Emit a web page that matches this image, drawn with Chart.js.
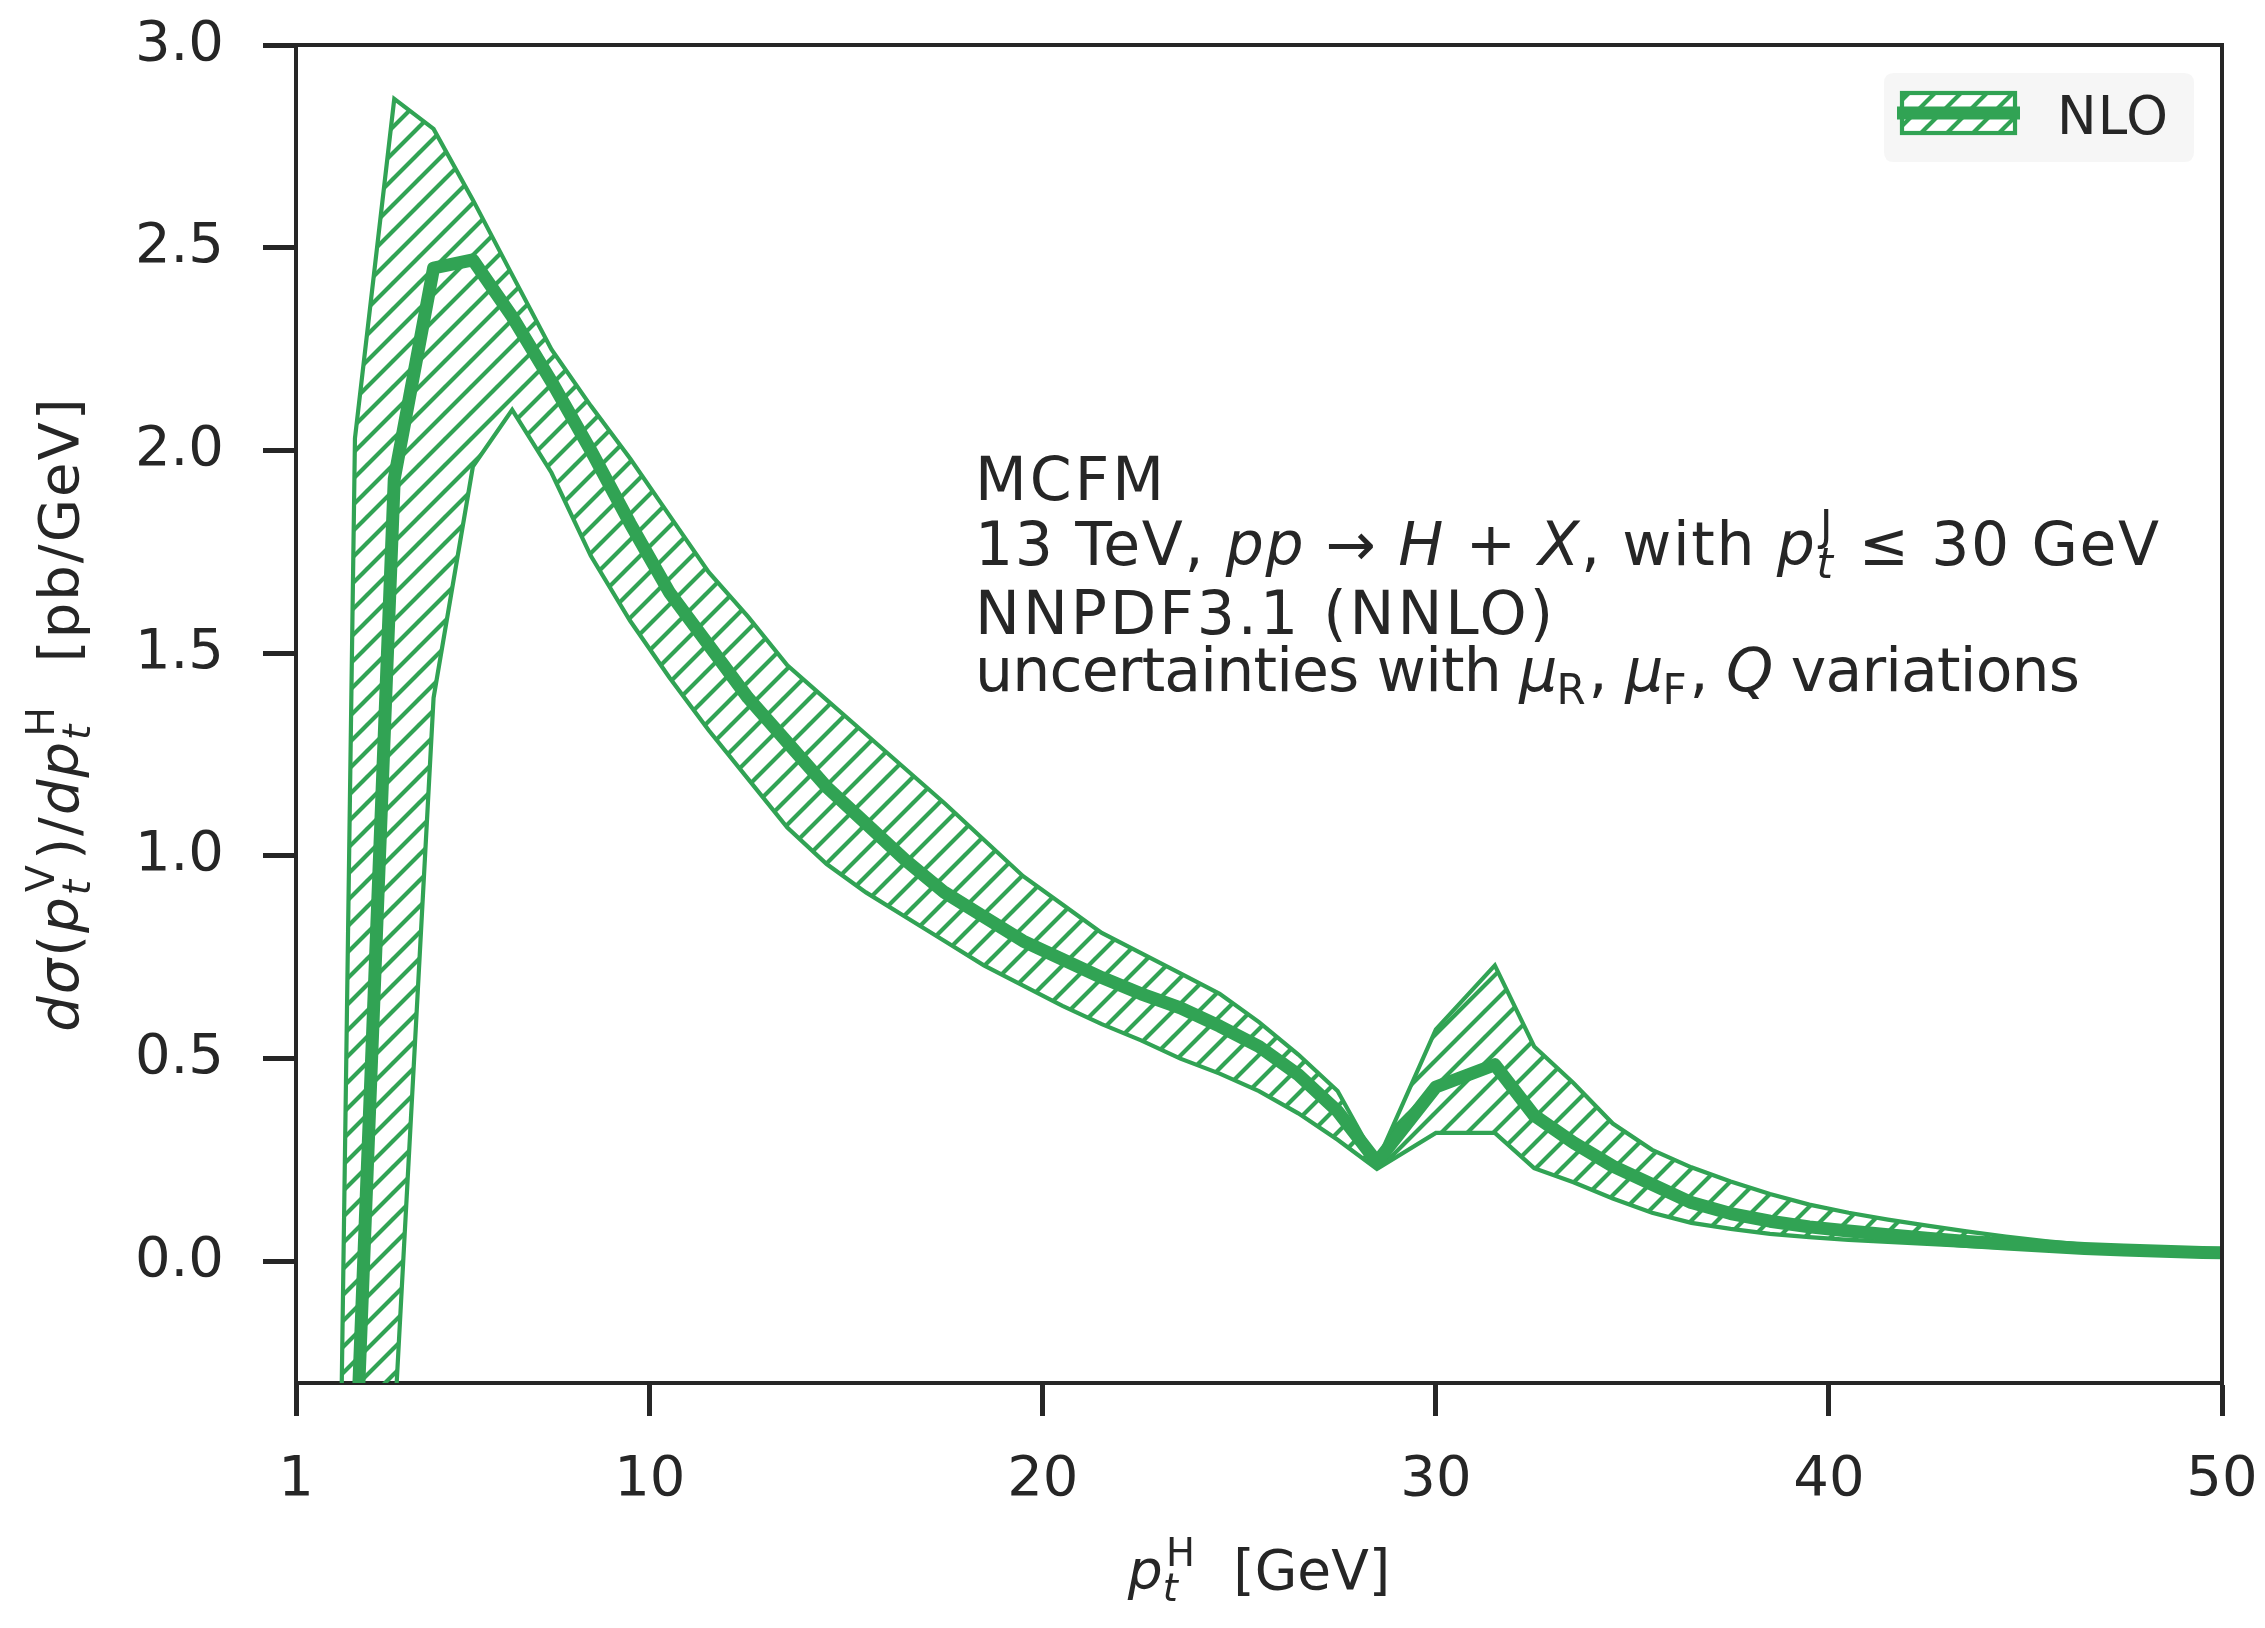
<!DOCTYPE html>
<html>
<head>
<meta charset="utf-8">
<script src="https://cdn.jsdelivr.net/npm/chart.js@4.4.1/dist/chart.umd.min.js"></script>
<style>
html,body{margin:0;padding:0;background:#ffffff;}
#wrap{width:2265px;height:1628px;position:relative;}
</style>
</head>
<body>
<div id="wrap"><canvas id="c"></canvas></div>
<script>
// ---------------- data ----------------
const ptH = [1.5, 2.5, 3.5, 4.5, 5.5, 6.5, 7.5, 8.5, 9.5, 10.5,
             11.5, 12.5, 13.5, 14.5, 15.5, 16.5, 17.5, 18.5, 19.5, 20.5,
             21.5, 22.5, 23.5, 24.5, 25.5, 26.5, 27.5, 28.5, 30.0, 31.5,
             32.5, 33.5, 34.5, 35.5, 36.5, 37.5, 38.5, 39.5, 40.5, 41.5,
             42.5, 43.5, 44.5, 45.5, 46.5, 47.5, 48.5, 49.5, 50.5];

const nloCentral = [-2.6, -0.55, 1.93, 2.45, 2.47, 2.33, 2.17, 2.00, 1.82, 1.65,
                    1.52, 1.39, 1.28, 1.17, 1.08, 0.99, 0.91, 0.85, 0.79, 0.745,
                    0.70, 0.66, 0.625, 0.58, 0.53, 0.46, 0.37, 0.245, 0.43, 0.485,
                    0.36, 0.293, 0.235, 0.19, 0.145, 0.118, 0.099, 0.085, 0.075, 0.066,
                    0.057, 0.049, 0.043, 0.037, 0.032, 0.028, 0.025, 0.022, 0.020];

const nloUpper = [-4.9, 2.03, 2.867, 2.793, 2.618, 2.433, 2.249, 2.11, 1.98, 1.84,
                  1.70, 1.59, 1.47, 1.385, 1.30, 1.215, 1.13, 1.04, 0.95, 0.88,
                  0.81, 0.76, 0.71, 0.66, 0.59, 0.51, 0.42, 0.245, 0.572, 0.73,
                  0.53, 0.44, 0.34, 0.275, 0.232, 0.197, 0.166, 0.14, 0.12, 0.103,
                  0.088, 0.074, 0.061, 0.05, 0.041, 0.035, 0.031, 0.028, 0.026];

const nloLower = [-9.0, -3.2, -0.41, 1.39, 1.96, 2.10, 1.945, 1.74, 1.58, 1.44,
                  1.31, 1.19, 1.07, 0.98, 0.91, 0.85, 0.79, 0.73, 0.68, 0.63,
                  0.585, 0.545, 0.50, 0.463, 0.42, 0.365, 0.30, 0.228, 0.317, 0.317,
                  0.23, 0.195, 0.155, 0.12, 0.095, 0.08, 0.068, 0.06, 0.053, 0.048,
                  0.043, 0.038, 0.034, 0.03, 0.026, 0.024, 0.022, 0.02, 0.019];

const xTickValues = [1, 10, 20, 30, 40, 50];
const yTickValues = [0.0, 0.5, 1.0, 1.5, 2.0, 2.5, 3.0];
const seriesLabel = 'NLO';

const annotationLines = [
  [{t:'MCFM'}],
  [{t:'13 TeV, '},{t:'pp',it:1},{t:' \u2192 '},{t:'H',it:1},{t:' + '},{t:'X',it:1},{t:', with '},{t:'p',it:1},{sup:'J',sub:'t',subIt:1},{t:' \u2264 30 GeV'}],
  [{t:'NNPDF3.1 (NNLO)'}],
  [{t:'uncertainties with '},{t:'\u03bc',it:1},{sub:'R'},{t:', '},{t:'\u03bc',it:1},{sub:'F'},{t:', '},{t:'Q',it:1},{t:' variations'}]
];
const yTitle = [{t:'d\u03c3',it:1},{t:'('},{t:'p',it:1},{sup:'V',sub:'t',subIt:1},{t:')/'},{t:'dp',it:1},{sup:'H',sub:'t',subIt:1},{t:'  [pb/GeV]'}];
const xTitle = [{t:'p',it:1},{sup:'H',sub:'t',subIt:1},{t:'  [GeV]'}];

// ---------------- styling ----------------
const GREEN = '#31a354';
const INK = '#262626';
const FAM = '"DejaVu Sans", "Liberation Sans", sans-serif';

function makeHatch(){
  const P = 26;
  const c = document.createElement('canvas');
  c.width = P; c.height = P;
  const g = c.getContext('2d');
  g.strokeStyle = GREEN; g.lineWidth = 4.2; g.lineCap = 'square';
  g.beginPath();
  for (let k = -1; k <= 1; k++) { g.moveTo(k*P, P); g.lineTo(k*P + P, 0); }
  g.stroke();
  return g.createPattern(c, 'repeat');
}
const hatch = makeHatch();

function fontStr(it, size){ return (it ? 'italic ' : '') + size + 'px ' + FAM; }
function segWidth(ctx, s, size){
  if (s.t !== undefined){ ctx.font = fontStr(s.it, size); return ctx.measureText(s.t).width; }
  const ss = size*0.7;
  let w1 = 0, w2 = 0;
  if (s.sub){ ctx.font = fontStr(s.subIt, ss); w1 = ctx.measureText(s.sub).width; }
  if (s.sup){ ctx.font = fontStr(s.supIt, ss); w2 = ctx.measureText(s.sup).width + size*0.06; }
  return Math.max(w1, w2) + size*0.06;
}
function drawRich(ctx, segs, x, y, size, align, spacing){
  ctx.save();
  ctx.textAlign = 'left'; ctx.textBaseline = 'alphabetic';
  try { ctx.letterSpacing = (spacing || 0) + 'px'; } catch(e) {}
  let total = 0; segs.forEach(s => total += segWidth(ctx, s, size));
  let cx = align === 'center' ? x - total/2 : x;
  segs.forEach(s => {
    if (s.t !== undefined){ ctx.font = fontStr(s.it, size); ctx.fillText(s.t, cx, y); }
    else {
      const ss = size*0.7;
      if (s.sup){ ctx.font = fontStr(s.supIt, ss); ctx.fillText(s.sup, cx + size*0.06, y - size*0.42); }
      if (s.sub){ ctx.font = fontStr(s.subIt, ss); ctx.fillText(s.sub, cx, y + size*0.22); }
    }
    cx += segWidth(ctx, s, size);
  });
  ctx.restore();
}

const decorPlugin = {
  id: 'decor',
  afterDatasetsDraw(chart){
    const {ctx, chartArea: a} = chart;
    ctx.save();
    ctx.strokeStyle = INK; ctx.lineWidth = 4;
    ctx.beginPath();
    ctx.moveTo(a.left - 2, a.top); ctx.lineTo(a.right, a.top); ctx.lineTo(a.right, a.bottom + 2);
    ctx.stroke();
    ctx.restore();
  },
  afterDraw(chart){
    const ctx = chart.ctx;
    const a = chart.chartArea;
    ctx.save();
    ctx.fillStyle = INK;
    // annotation block
    const baselines = [500, 565, 634, 691];
    const spacings = [3, 1.6, 3, -0.8];
    annotationLines.forEach((segs, i) => drawRich(ctx, segs, 975, baselines[i], 60, 'left', spacings[i]));
    // axis titles
    drawRich(ctx, xTitle, (a.left + a.right)/2, 1589, 55, 'center', 0);
    ctx.save();
    ctx.translate(78, (a.top + a.bottom)/2);
    ctx.rotate(-Math.PI/2);
    drawRich(ctx, yTitle, 0, 0, 56, 'center', 2);
    ctx.restore();
    // legend
    const lx = 1884, ly = 73, lw = 310, lh = 89, r = 10;
    ctx.fillStyle = '#f6f6f6';
    ctx.beginPath();
    ctx.moveTo(lx + r, ly); ctx.lineTo(lx + lw - r, ly); ctx.quadraticCurveTo(lx + lw, ly, lx + lw, ly + r);
    ctx.lineTo(lx + lw, ly + lh - r); ctx.quadraticCurveTo(lx + lw, ly + lh, lx + lw - r, ly + lh);
    ctx.lineTo(lx + r, ly + lh); ctx.quadraticCurveTo(lx, ly + lh, lx, ly + lh - r);
    ctx.lineTo(lx, ly + r); ctx.quadraticCurveTo(lx, ly, lx + r, ly); ctx.closePath();
    ctx.fill();
    ctx.fillStyle = '#ffffff';
    ctx.fillRect(1902, 93, 113, 40);
    ctx.fillStyle = hatch;
    ctx.fillRect(1902, 93, 113, 40);
    ctx.strokeStyle = GREEN; ctx.lineWidth = 4.2;
    ctx.strokeRect(1902, 93, 113, 40);
    ctx.lineWidth = 13; ctx.lineCap = 'butt';
    ctx.beginPath(); ctx.moveTo(1897, 113); ctx.lineTo(2020, 113); ctx.stroke();
    ctx.fillStyle = INK;
    drawRich(ctx, [{t: chart.data.datasets[0].label}], 2057, 134, 53, 'left', 1);
    ctx.restore();
  }
};

const toPts = ys => ptH.map((x, i) => ({x: x, y: ys[i]}));

const chart = new Chart(document.getElementById('c'), {
  type: 'line',
  data: {
    datasets: [
      { label: seriesLabel, data: toPts(nloCentral), borderColor: GREEN, borderWidth: 13,
        pointRadius: 0, fill: false, order: 0, borderJoinStyle: 'round', tension: 0, clip: 0 },
      { label: seriesLabel + ' upper', data: toPts(nloUpper), borderColor: GREEN, borderWidth: 4.2,
        pointRadius: 0, fill: '+1', backgroundColor: hatch, order: 1, tension: 0, clip: 0 },
      { label: seriesLabel + ' lower', data: toPts(nloLower), borderColor: GREEN, borderWidth: 4.2,
        pointRadius: 0, fill: false, order: 2, tension: 0, clip: 0 }
    ]
  },
  options: {
    responsive: true,
    maintainAspectRatio: false,
    devicePixelRatio: 1,
    animation: false,
    events: [],
    layout: { padding: { left: 0, top: 45, right: 43, bottom: 0 } },
    plugins: { legend: { display: false }, tooltip: { enabled: false }, title: { display: false } },
    scales: {
      x: {
        type: 'linear', min: 1, max: 50,
        afterBuildTicks: s => { s.ticks = xTickValues.map(v => ({value: v})); },
        afterFit: s => { s.height = 245; s.paddingLeft = 0; s.paddingRight = 0; },
        grid: { drawOnChartArea: false, drawTicks: true, tickLength: 33, tickWidth: 5, tickColor: INK },
        border: { display: true, width: 4, color: INK },
        ticks: { autoSkip: false, maxRotation: 0, padding: 36, color: INK,
                 font: { family: FAM, size: 56, lineHeight: 1.0 },
                 callback: v => String(v) }
      },
      y: {
        type: 'linear', min: -0.3, max: 3.0,
        afterBuildTicks: s => { s.ticks = yTickValues.map(v => ({value: v})); },
        afterFit: s => { s.width = 296; s.paddingTop = 0; s.paddingBottom = 0; },
        grid: { drawOnChartArea: false, drawTicks: true, tickLength: 33, tickWidth: 5, tickColor: INK },
        border: { display: true, width: 4, color: INK },
        ticks: { autoSkip: false, padding: 39, color: INK,
                 font: { family: FAM, size: 56, lineHeight: 1.0 },
                 callback: v => Number(v).toFixed(1) }
      }
    }
  },
  plugins: [decorPlugin]
});
</script>
</body>
</html>
